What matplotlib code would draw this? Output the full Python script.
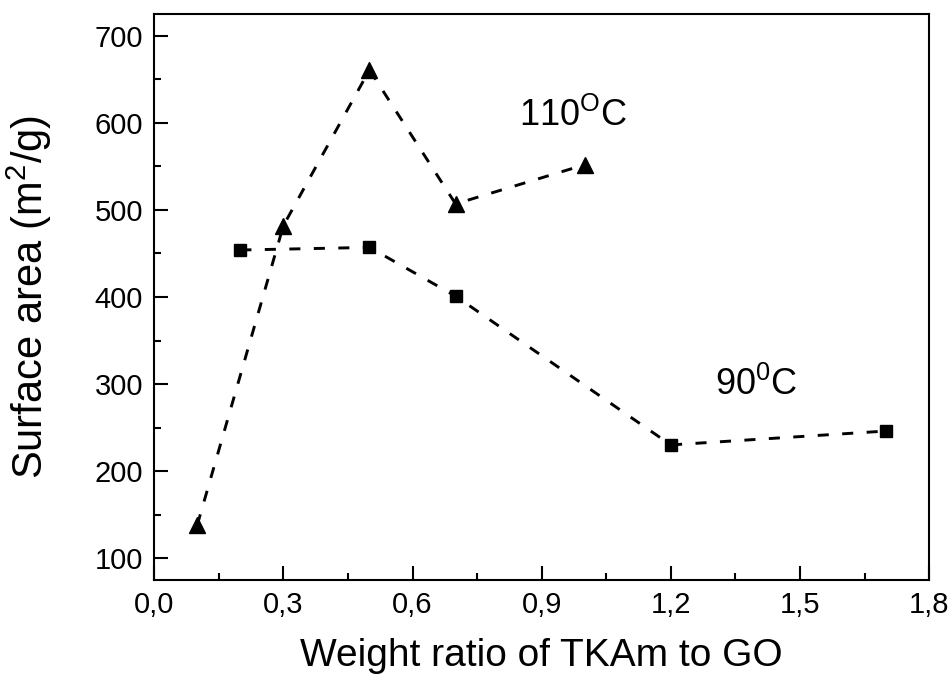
import matplotlib
matplotlib.use("Agg")
import matplotlib.pyplot as plt
from matplotlib.ticker import MultipleLocator, FuncFormatter

plt.rcParams['font.family'] = ['Liberation Sans', 'DejaVu Sans']
plt.rcParams['mathtext.fontset'] = 'custom'
plt.rcParams['mathtext.rm'] = 'Liberation Sans'

# 110 C series (triangles)
x_110 = [0.1, 0.3, 0.5, 0.7, 1.0]
y_110 = [138, 482, 661, 507, 552]

# 90 C series (squares)
x_90 = [0.2, 0.5, 0.7, 1.2, 1.7]
y_90 = [454, 457, 401, 230, 246]

fig = plt.figure(figsize=(9.52, 6.75), dpi=100)
ax = fig.add_axes([0.162, 0.141, 0.814, 0.838])

dash = (0, (3.8, 4.6))
ax.plot(x_110, y_110, color='black', linestyle=dash, linewidth=2.1,
        marker='^', markersize=11)
ax.plot(x_90, y_90, color='black', linestyle=dash, linewidth=2.1,
        marker='s', markersize=8)

ax.text(0.972, 608, r'110$^{\mathrm{O}}$C', fontsize=26, ha='center', va='center')
ax.text(1.398, 299, r'90$^{\mathrm{0}}$C', fontsize=26, ha='center', va='center')

ax.set_xlim(0, 1.8)
ax.set_ylim(75, 725)
ax.xaxis.set_major_locator(MultipleLocator(0.3))
ax.xaxis.set_minor_locator(MultipleLocator(0.15))
ax.yaxis.set_major_locator(MultipleLocator(100))
ax.yaxis.set_minor_locator(MultipleLocator(50))
ax.xaxis.set_major_formatter(FuncFormatter(lambda v, p: f"{v:.1f}".replace('.', ',')))

ax.tick_params(which='both', direction='in', top=False, right=False, width=1.5)
ax.tick_params(which='major', length=10, labelsize=21, pad=8)
ax.tick_params(which='minor', length=5)
for s in ax.spines.values():
    s.set_linewidth(1.5)

ax.set_xlabel('Weight ratio of TKAm to GO', fontsize=28, labelpad=14)
ax.set_ylabel('Surface area (m$^{2}$/g)', fontsize=30, labelpad=29)

fig.savefig('out.png', dpi=100)
